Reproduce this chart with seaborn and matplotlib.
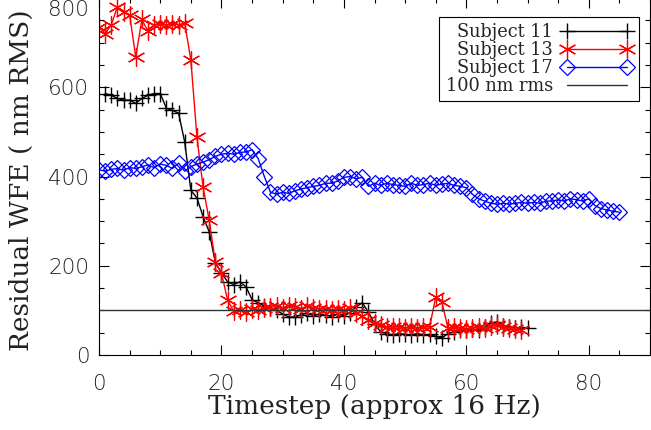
"""
plot.py
---------------------------------------------------------------------
Residual wavefront error per timestep for three subjects
"""
import numpy as np
import pandas as pd
import matplotlib
matplotlib.use("Agg")
import matplotlib.pyplot as plt
import matplotlib.transforms as mtransforms
from matplotlib.ticker import MultipleLocator
import seaborn as sns


# residual WFE (nm RMS), one value per timestep
SUBJECT11_START = 1
SUBJECT11 = [586, 582, 575, 571, 571, 564, 575, 582, 586, 586,
             553, 548, 542, 477, 369, 352, 310, 276, 207, 184,
             164, 158, 164, 153, 124, 117, 110, 105, 100, 92,
             85, 85, 90, 94, 88, 92, 90, 86, 92, 88,
             95, 108, 117, 96, 70, 52, 48, 45, 48, 46,
             45, 48, 45, 46, 42, 38, 48, 52, 55, 55,
             58, 55, 62, 72, 74, 66, 62, 60, 62, 60]

SUBJECT13_START = 0
SUBJECT13 = [735, 720, 740, 780, 768, 762, 668, 752, 725, 740,
             742, 740, 742, 740, 744, 661, 488, 376, 302, 208,
             184, 123, 98, 100, 96, 102, 100, 105, 108, 110,
             106, 110, 108, 104, 110, 106, 104, 102, 100, 104,
             100, 105, 95, 88, 78, 72, 67, 63, 62, 63,
             60, 63, 60, 62, 63, 130, 119, 60, 62, 60,
             58, 60, 62, 60, 66, 68, 62, 60, 58, 56]

SUBJECT17_START = 0
SUBJECT17 = [415, 412, 416, 418, 414, 420, 418, 422, 426, 420,
             428, 425, 418, 430, 412, 422, 428, 432, 438, 445,
             450, 452, 450, 454, 455, 460, 440, 400, 365, 360,
             365, 362, 368, 372, 375, 378, 380, 385, 385, 390,
             398, 400, 395, 398, 378, 385, 380, 385, 382, 380,
             378, 385, 380, 382, 385, 380, 383, 385, 380, 378,
             375, 360, 350, 345, 340, 338, 340, 338, 340, 342,
             340, 342, 340, 345, 345, 348, 345, 350, 348, 345,
             350, 335, 328, 325, 322, 320]

THRESHOLD = 100
LABELS = ["Subject 11", "Subject 13", "Subject 17", "100 nm rms"]


def series(start, values):
    steps = np.arange(start, start + len(values))
    return pd.DataFrame({"t": steps, "wfe": values})


def main():
    sns.set_style("ticks")
    plt.rcParams["font.family"] = ["DejaVu Sans"]

    fig = plt.figure(figsize=(6.51, 4.30), dpi=100)
    ax = fig.add_axes([0.1521, 0.1744, 0.8464, 0.8302])

    d11 = series(SUBJECT11_START, SUBJECT11)
    d13 = series(SUBJECT13_START, SUBJECT13)
    d17 = series(SUBJECT17_START, SUBJECT17)

    sns.lineplot(data=d11, x="t", y="wfe", ax=ax, color="black", lw=1,
                 marker="+", markersize=11, markeredgecolor="black",
                 markeredgewidth=1, sort=False, errorbar=None, label=LABELS[0])
    sns.lineplot(data=d13, x="t", y="wfe", ax=ax, color="red", lw=1,
                 marker=(6, 2, 0), markersize=13, markeredgecolor="red",
                 markeredgewidth=0.9, sort=False, errorbar=None, label=LABELS[1])
    sns.lineplot(data=d17, x="t", y="wfe", ax=ax, color="blue", lw=1,
                 marker="D", markersize=8, markeredgecolor="blue",
                 markerfacecolor="none", markeredgewidth=0.9,
                 sort=False, errorbar=None, label=LABELS[2])
    ax.axhline(THRESHOLD, color="#333333", lw=1, label=LABELS[3])

    ax.set_xlim(0, 90)
    ax.set_ylim(0, 800)
    ax.xaxis.set_major_locator(MultipleLocator(20))
    ax.xaxis.set_minor_locator(MultipleLocator(5))
    ax.yaxis.set_major_locator(MultipleLocator(200))
    ax.yaxis.set_minor_locator(MultipleLocator(50))
    ax.tick_params(which="both", direction="in", top=True, right=True,
                   color="black", width=0.8)
    ax.tick_params(which="major", length=7.5, labelsize=15.5)
    ax.tick_params(which="minor", length=3.5)
    ax.tick_params(axis="x", which="major", pad=14)
    ax.tick_params(axis="y", which="major", pad=7)
    for sp in ax.spines.values():
        sp.set_linewidth(0.8)
        sp.set_color("black")

    ax.set_xlabel("Timestep (approx 16 Hz)", family="DejaVu Serif",
                  fontsize=19, color="#222222")
    ax.set_ylabel("Residual WFE ( nm RMS)", family="DejaVu Serif",
                  fontsize=19, color="#222222")
    ax.xaxis.set_label_coords(0.5, -0.11)
    ax.yaxis.set_label_coords(-0.118, 0.49)

    leg = ax.legend(loc="upper right", bbox_to_anchor=(0.98, 0.947),
                    borderaxespad=0, markerfirst=False, numpoints=2,
                    handlelength=4.0, handletextpad=0.5, labelspacing=0,
                    borderpad=0.35, fancybox=False, framealpha=1,
                    edgecolor="black", prop={"family": "DejaVu Serif", "size": 12.8})
    leg.get_frame().set_linewidth(0.8)

    fig.canvas.draw()
    for tick in ax.xaxis.get_major_ticks() + ax.yaxis.get_major_ticks():
        tick.label1.set_fontweight("light")
        tick.label1.set_color("#222222")
    # the top label sits lower than its tick in the original
    for tick in ax.yaxis.get_major_ticks():
        if abs(tick.get_loc() - 800) < 1:
            lab = tick.label1
            lab.set_transform(lab.get_transform() +
                              mtransforms.ScaledTranslation(0, -0.1, fig.dpi_scale_trans))

    fig.savefig("out.png", dpi=100)
    plt.close(fig)


if __name__ == "__main__":
    main()
